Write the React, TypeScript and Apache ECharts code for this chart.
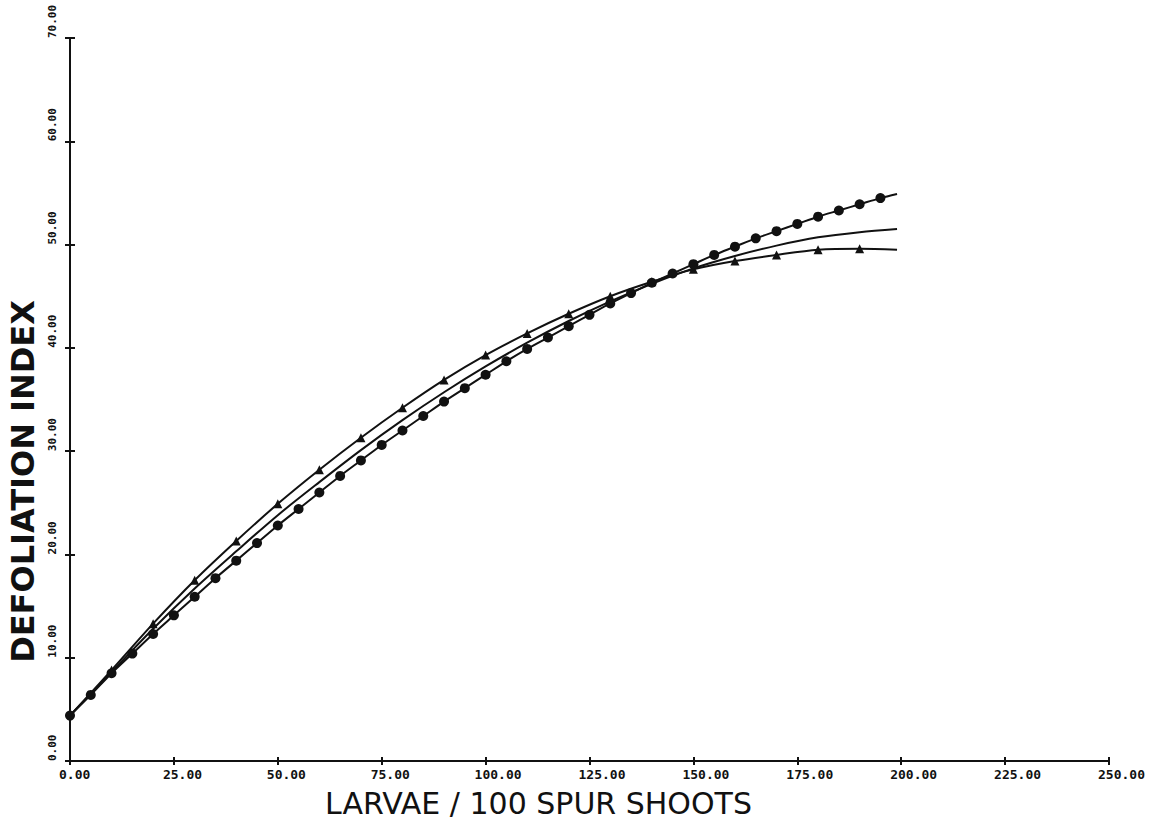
import React, { useEffect, useRef } from "react";
import * as echarts from "echarts";

// Tick labels
const xTicks = [0, 25, 50, 75, 100, 125, 150, 175, 200, 225, 250];
const yTicks = [0, 10, 20, 30, 40, 50, 60, 70];

// Curve with filled circle markers (every 5 units), ends at 199 without marker
const circleX = [0, 5, 10, 15, 20, 25, 30, 35, 40, 45, 50, 55, 60, 65, 70, 75, 80, 85, 90, 95, 100,
  105, 110, 115, 120, 125, 130, 135, 140, 145, 150, 155, 160, 165, 170, 175, 180, 185, 190, 195, 199];
const circleY = [4.4, 6.4, 8.5, 10.4, 12.3, 14.1, 15.9, 17.7, 19.4, 21.1, 22.8, 24.4, 26.0, 27.6, 29.1,
  30.6, 32.0, 33.4, 34.8, 36.1, 37.4, 38.7, 39.9, 41.0, 42.1, 43.2, 44.3, 45.3, 46.3, 47.2, 48.1,
  49.0, 49.8, 50.6, 51.3, 52.0, 52.7, 53.3, 53.9, 54.5, 54.9];

// Curve with triangle markers (every 10 units)
const triX = [0, 10, 20, 30, 40, 50, 60, 70, 80, 90, 100, 110, 120, 130, 140, 150, 160, 170, 180, 190, 199];
const triY = [4.4, 8.8, 13.3, 17.5, 21.3, 24.9, 28.2, 31.3, 34.2, 36.9, 39.3, 41.4, 43.3, 45.0, 46.4,
  47.6, 48.4, 49.0, 49.5, 49.6, 49.5];

// Plain curve (no markers)
const plainX = [0, 10, 20, 30, 40, 50, 60, 70, 80, 90, 100, 110, 120, 130, 140, 150, 160, 170, 180, 190, 199];
const plainY = [4.4, 8.6, 12.8, 16.7, 20.3, 23.8, 27.0, 30.1, 33.0, 35.7, 38.2, 40.5, 42.6, 44.5, 46.2,
  47.7, 48.9, 49.9, 50.7, 51.2, 51.5];

const xTitle = "LARVAE / 100 SPUR SHOOTS";
const yTitle = "DEFOLIATION INDEX";

function markedData(xs: number[], ys: number[], noMarkAtStart: boolean) {
  return xs.map((x, i) => {
    const last = i === xs.length - 1;
    const first = i === 0 && noMarkAtStart;
    return last || first ? { value: [x, ys[i]], symbol: "none" } : { value: [x, ys[i]] };
  });
}

export default function App() {
  const ref = useRef<HTMLDivElement>(null);
  useEffect(() => {
    if (!ref.current) return;
    const chart = echarts.init(ref.current, undefined, { renderer: "svg" });
    const xMin = xTicks[0];
    const xMax = xTicks[xTicks.length - 1];
    const xInt = xTicks[1] - xTicks[0];
    const yMin = yTicks[0];
    const yMax = yTicks[yTicks.length - 1];
    const yInt = yTicks[1] - yTicks[0];
    const labelFont = "'DejaVu Sans Mono', monospace";
    chart.setOption({
      animation: false,
      backgroundColor: "#ffffff",
      grid: { left: 70, right: 44, top: 38, bottom: 60, containLabel: false, outerBoundsMode: "none" },
      xAxis: [
        {
          type: "value",
          min: xMin,
          max: xMax,
          interval: xInt,
          name: xTitle,
          nameLocation: "middle",
          nameGap: 27,
          nameTextStyle: {
            fontFamily: "'DejaVu Sans', sans-serif",
            fontSize: 30,
            lineHeight: 30,
            color: "#111",
            padding: [0, 102, 0, 0],
          },
          axisLine: { show: true, lineStyle: { color: "#111", width: 2 } },
          axisTick: { show: true, length: 4, lineStyle: { color: "#111", width: 2 } },
          axisLabel: {
            fontFamily: labelFont,
            fontWeight: "bold",
            fontSize: 13,
            color: "#111",
            margin: 7,
            align: "left",
            padding: [0, 0, 0, -11],
            formatter: (v: number) => v.toFixed(2),
          },
          splitLine: { show: false },
        },
        {
          type: "value",
          min: xMin,
          max: xMax,
          interval: xInt,
          position: "bottom",
          axisLine: { show: false },
          axisTick: { show: true, inside: true, length: 4, lineStyle: { color: "#111", width: 2 } },
          axisLabel: { show: false },
          splitLine: { show: false },
        },
      ],
      yAxis: [
        {
          type: "value",
          min: yMin,
          max: yMax,
          interval: yInt,
          name: yTitle,
          nameLocation: "middle",
          nameRotate: 90,
          nameGap: 30,
          nameTextStyle: {
            fontFamily: "'DejaVu Sans', sans-serif",
            fontWeight: "bold",
            fontSize: 32,
            color: "#111",
            padding: [0, 164, 0, 0],
          },
          axisLine: { show: true, lineStyle: { color: "#111", width: 2 } },
          axisTick: { show: true, length: 5, lineStyle: { color: "#111", width: 2 } },
          axisLabel: {
            fontFamily: labelFont,
            fontWeight: "bold",
            fontSize: 11,
            color: "#111",
            rotate: 90,
            align: "left",
            verticalAlign: "middle",
            margin: 18,
            formatter: (v: number) => v.toFixed(2),
          },
          splitLine: { show: false },
        },
        {
          type: "value",
          min: yMin,
          max: yMax,
          interval: yInt,
          position: "left",
          axisLine: { show: false },
          axisTick: { show: true, inside: true, length: 5, lineStyle: { color: "#111", width: 2 } },
          axisLabel: { show: false },
          splitLine: { show: false },
        },
      ],
      series: [
        {
          name: "plain",
          type: "line",
          smooth: 0.3,
          symbol: "none",
          lineStyle: { color: "#111", width: 2 },
          data: plainX.map((x, i) => [x, plainY[i]]),
        },
        {
          name: "triangles",
          type: "line",
          smooth: 0.3,
          symbol: "triangle",
          symbolSize: 9,
          itemStyle: { color: "#111" },
          lineStyle: { color: "#111", width: 2 },
          data: markedData(triX, triY, true),
        },
        {
          name: "circles",
          type: "line",
          smooth: 0.3,
          symbol: "circle",
          symbolSize: 10,
          itemStyle: { color: "#111" },
          lineStyle: { color: "#111", width: 2 },
          data: markedData(circleX, circleY, false),
        },
      ],
    });
    return () => chart.dispose();
  }, []);
  return (
    <div
      ref={ref}
      style={{ position: "absolute", left: 0, top: 0, width: 1153, height: 821, background: "#fff" }}
    />
  );
}
